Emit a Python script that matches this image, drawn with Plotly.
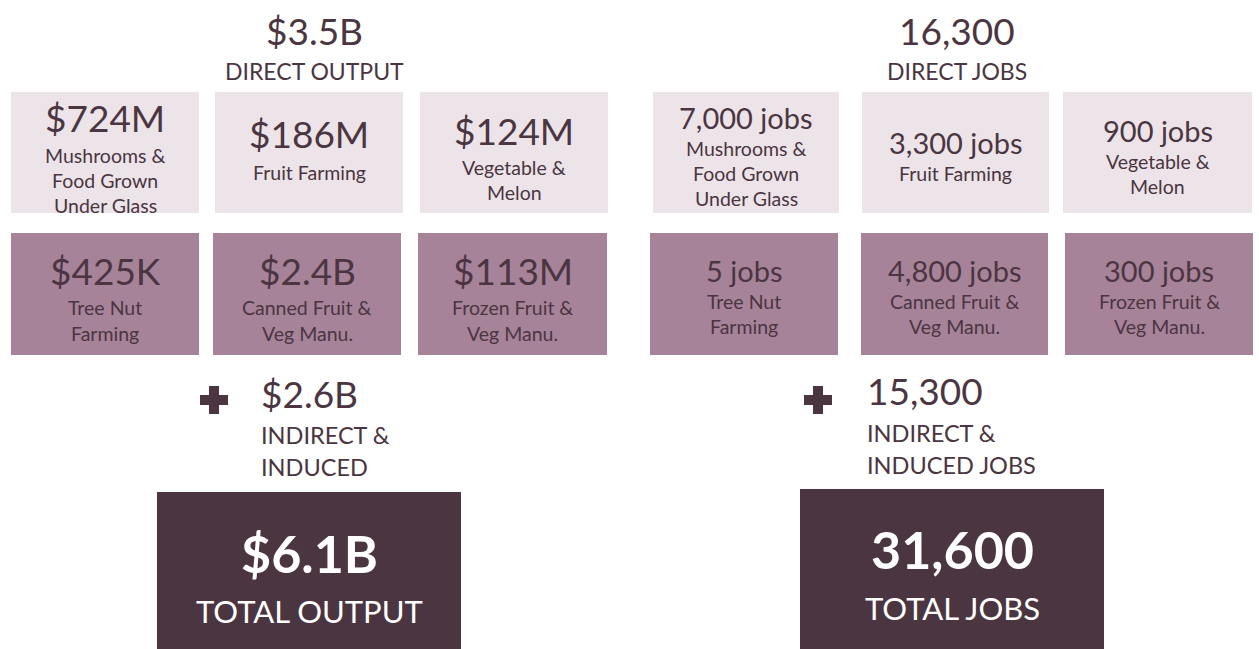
import plotly.graph_objects as go

# ---- data ----
output_total_direct = "$3.5B"
output_values_top = ["$724M", "$186M", "$124M"]
output_values_bottom = ["$425K", "$2.4B", "$113M"]
jobs_total_direct = "16,300"
jobs_values_top = ["7,000 jobs", "3,300 jobs", "900 jobs"]
jobs_values_bottom = ["5 jobs", "4,800 jobs", "300 jobs"]
top_labels = ["Mushrooms &<br>Food Grown<br>Under Glass", "Fruit Farming", "Vegetable &<br>Melon"]
bottom_labels = ["Tree Nut<br>Farming", "Canned Fruit &<br>Veg Manu.", "Frozen Fruit &<br>Veg Manu."]
output_indirect = "$2.6B"
jobs_indirect = "15,300"
output_total = "$6.1B"
jobs_total = "31,600"

# ---- styles ----
W, H = 1259, 649
FONT = "Lato"
TXT = "#4B3541"
LIGHT = "#ECE4E9"
MID = "#A68399"
DARK = "#4A3541"

fig = go.Figure()
shapes = []
ann = []

def rect(x0, y0, x1, y1, color):
    shapes.append(dict(type="rect", xref="x", yref="y", x0=x0, x1=x1, y0=y0, y1=y1,
                       fillcolor=color, line=dict(width=0), layer="below"))

def text(x, y, s, size, color=TXT, bold=False, xanchor="center"):
    if bold:
        s = "<b>" + s + "</b>"
    ann.append(dict(x=x, y=y, xref="x", yref="y", text=s, showarrow=False,
                    xanchor=xanchor, yanchor="middle",
                    font=dict(family=FONT, size=size, color=color)))

def label(x, y0, s, size, step):
    for i, line in enumerate(s.split("<br>")):
        text(x, y0 + i * step, line, size)

# left panel
text(314, 30, output_total_direct, 37)
text(314, 71, "DIRECT OUTPUT", 23)
top_boxes_l = [(11, 199), (215, 403), (420, 608)]
bot_boxes_l = [(11, 199), (213, 401), (418, 607)]
top_val_y_l = [117, 133, 130]
top_lab_y_l = [155, 172, 167]
for (x0, x1), v, lab, vy, ly in zip(top_boxes_l, output_values_top, top_labels, top_val_y_l, top_lab_y_l):
    rect(x0, 92, x1, 213, LIGHT)
    cx = (x0 + x1) / 2
    text(cx, vy, v, 37)
    label(cx, ly, lab, 19.5, 25)
for (x0, x1), v, lab in zip(bot_boxes_l, output_values_bottom, bottom_labels):
    rect(x0, 233, x1, 355, MID)
    cx = (x0 + x1) / 2
    text(cx, 270, v, 37)
    label(cx, 307, lab, 19.5, 26)

# right panel
text(957, 30, jobs_total_direct, 37)
text(957, 71, "DIRECT JOBS", 23)
top_boxes_r = [(653, 839), (862, 1049), (1063, 1252)]
bot_boxes_r = [(650, 838), (861, 1048), (1065, 1253)]
top_val_y_r = [117, 142, 130]
top_lab_y_r = [148, 173, 161]
for (x0, x1), v, lab, vy, ly in zip(top_boxes_r, jobs_values_top, top_labels, top_val_y_r, top_lab_y_r):
    rect(x0, 92, x1, 213, LIGHT)
    cx = (x0 + x1) / 2
    text(cx, vy, v, 29)
    label(cx, ly, lab, 19.5, 25)
for (x0, x1), v, lab in zip(bot_boxes_r, jobs_values_bottom, bottom_labels):
    rect(x0, 233, x1, 355, MID)
    cx = (x0 + x1) / 2
    text(cx, 270, v, 29)
    label(cx, 301, lab, 19.5, 25)

# plus signs
for px in (214, 818):
    rect(px - 14, 395, px + 14, 405, DARK)
    rect(px - 5, 386, px + 5, 414, DARK)

# indirect
text(259, 393, output_indirect, 37, xanchor="left")
text(259, 435, "INDIRECT &", 23.5, xanchor="left")
text(259, 467, "INDUCED", 23.5, xanchor="left")
text(865, 390, jobs_indirect, 37, xanchor="left")
text(865, 433, "INDIRECT &", 23.5, xanchor="left")
text(865, 465, "INDUCED JOBS", 23.5, xanchor="left")

# totals
rect(157, 492, 461, 649, DARK)
text(309, 553, output_total, 52, color="white", bold=True)
text(309, 611, "TOTAL OUTPUT", 31, color="white")
rect(800, 489, 1104, 649, DARK)
text(952, 549, jobs_total, 52, color="white", bold=True)
text(952, 608, "TOTAL JOBS", 31, color="white")

fig.update_layout(
    width=W, height=H, margin=dict(l=0, r=0, t=0, b=0),
    paper_bgcolor="white", plot_bgcolor="white",
    xaxis=dict(range=[0, W], visible=False, fixedrange=True),
    yaxis=dict(range=[H, 0], visible=False, fixedrange=True),
    shapes=shapes, annotations=ann, showlegend=False,
)
fig.write_html("out.html", config={"displayModeBar": False},
               post_script="document.body.style.margin='0';document.body.style.overflow='hidden';")
